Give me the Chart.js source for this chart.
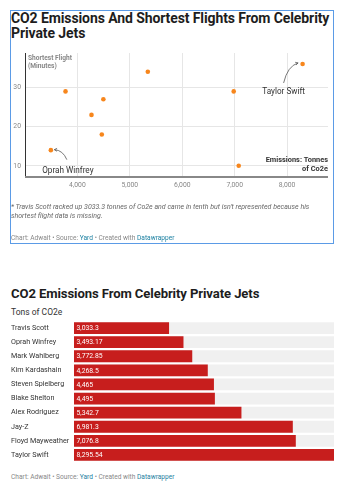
<!DOCTYPE html>
<html>
<head>
<meta charset="utf-8">
<script src="https://cdn.jsdelivr.net/npm/chart.js@4/dist/chart.umd.min.js"></script>
<style>
  html,body{margin:0;padding:0;background:#fff;font-family:Roboto,"Noto Sans",sans-serif;}
  body{width:346px;height:500px;position:relative;overflow:hidden;}
  .abs{position:absolute;}
  #box{left:10px;top:10px;width:324px;height:234px;border:1px solid #5b9be6;box-sizing:border-box;}
  .title{font-weight:bold;color:#1d1d1d;font-size:14px;line-height:15px;letter-spacing:-0.1px;}
  .note{font-style:italic;color:#666;font-size:7px;line-height:9px;}
  .credit{color:#888;font-size:6.6px;}
  .credit a{color:#1d81a2;text-decoration:none;}
  .sub{color:#333;font-size:8.5px;}
</style>
</head>
<body>
<div id="box" class="abs"></div>
<div class="abs title" style="left:11px;top:11px;width:320px;">CO2 Emissions And Shortest Flights From Celebrity Private Jets</div>
<canvas id="scatter" class="abs" style="left:0;top:0;" width="346" height="250"></canvas>
<div class="abs note" style="left:11px;top:203px;width:320px;">* Travis Scott racked up 3033.3 tonnes of Co2e and came in tenth but isn't represented because his shortest flight data is missing.</div>
<div class="abs credit" style="left:11px;top:234px;">Chart: Adwait • Source: <a>Yard</a> • Created with <a>Datawrapper</a></div>

<div class="abs title" style="left:11px;top:286px;font-size:13.1px;">CO2 Emissions From Celebrity Private Jets</div>
<div class="abs sub" style="left:11px;top:307px;">Tons of CO2e</div>
<canvas id="bars" class="abs" style="left:0;top:315px;" width="346" height="152"></canvas>
<div class="abs credit" style="left:11px;top:473px;">Chart: Adwait • Source: <a>Yard</a> • Created with <a>Datawrapper</a></div>

<script>
// ---- Data ----
const scatterNames = ["Oprah Winfrey","Mark Wahlberg","Kim Kardashain","Steven Spielberg","Blake Shelton","Alex Rodriguez","Jay-Z","Floyd Mayweather","Taylor Swift"];
const scatterEmissions = [3493.17,3772.85,4268.5,4465,4495,5342.7,6981.3,7076.8,8295.54];
const scatterFlightMinutes = [14,29,23,18,27,34,29,10,36];
const xTicks = [4000,5000,6000,7000,8000];
const yTicks = [10,20,30];

const barNames = ["Travis Scott","Oprah Winfrey","Mark Wahlberg","Kim Kardashain","Steven Spielberg","Blake Shelton","Alex Rodriguez","Jay-Z","Floyd Mayweather","Taylor Swift"];
const barValues = [3033.3,3493.17,3772.85,4268.5,4465,4495,5342.7,6981.3,7076.8,8295.54];
const barLabels = ["3,033.3","3,493.17","3,772.85","4,268.5","4,465","4,495","5,342.7","6,981.3","7,076.8","8,295.54"];

const FONT = 'Roboto, "Noto Sans", sans-serif';

// ---- Scatter ----
const annotations = [
  {name:"Oprah Winfrey", tx:17, ty:21, sx:16, sy:9.5, cx:12, cy:0, ex:3.5, ey:-0.5},
  {name:"Taylor Swift", tx:-19, ty:28, sx:-19, sy:19, cx:-15, cy:2, ex:-4.5, ey:-1}
];

const scatterPlugin = {
  id:'scatterExtras',
  afterDraw(chart){
    const {ctx, chartArea:a, scales:{x,y}} = chart;
    ctx.save();
    ctx.font = 'bold 6.6px '+FONT;
    ctx.fillStyle = '#888';
    ctx.textAlign='left'; ctx.textBaseline='middle';
    ctx.fillText('Shortest Flight', a.left+3, a.top+5);
    ctx.fillText('(Minutes)', a.left+3, a.top+13);
    ctx.font = 'bold 7.4px '+FONT;
    ctx.fillStyle = '#333';
    ctx.textAlign='right';
    ctx.fillText('Emissions: Tonnes', a.right, a.bottom-16);
    ctx.fillText('of Co2e', a.right, a.bottom-7);
    annotations.forEach(an=>{
      const i = scatterNames.indexOf(an.name);
      const px = x.getPixelForValue(scatterEmissions[i]);
      const py = y.getPixelForValue(scatterFlightMinutes[i]);
      ctx.font = '8.2px '+FONT;
      ctx.fillStyle = '#333';
      ctx.textAlign='center';
      ctx.fillText(an.name, px+an.tx, py+an.ty);
      ctx.strokeStyle='#555'; ctx.lineWidth=0.8;
      ctx.beginPath();
      ctx.moveTo(px+an.sx, py+an.sy);
      ctx.quadraticCurveTo(px+an.cx, py+an.cy, px+an.ex, py+an.ey);
      ctx.stroke();
      const ang = Math.atan2(an.ey-an.cy, an.ex-an.cx);
      const hx = px+an.ex, hy = py+an.ey;
      ctx.beginPath();
      ctx.moveTo(hx - 3*Math.cos(ang-0.5), hy - 3*Math.sin(ang-0.5));
      ctx.lineTo(hx, hy);
      ctx.lineTo(hx - 3*Math.cos(ang+0.5), hy - 3*Math.sin(ang+0.5));
      ctx.stroke();
    });
    ctx.strokeStyle='#888'; ctx.lineWidth=2;
    ctx.beginPath(); ctx.moveTo(a.left, a.bottom+1); ctx.lineTo(a.right, a.bottom+1); ctx.stroke();
    ctx.strokeStyle='#333'; ctx.lineWidth=1;
    ctx.beginPath(); ctx.moveTo(a.left+0.5, a.top); ctx.lineTo(a.left+0.5, a.bottom); ctx.stroke();
    ctx.restore();
  }
};

new Chart(document.getElementById('scatter'), {
  type:'scatter',
  data:{datasets:[{
    data: scatterEmissions.map((v,i)=>({x:v,y:scatterFlightMinutes[i]})),
    backgroundColor:'#f7861c', borderColor:'#f7861c', pointRadius:2.3, pointHoverRadius:2.3, borderWidth:0
  }]},
  options:{
    responsive:false, animation:false,
    devicePixelRatio:1,
    layout:{padding:{left:10, right:18, top:53, bottom:60}},
    plugins:{legend:{display:false}, tooltip:{enabled:false}},
    scales:{
      x:{type:'linear', min:3000, max:8780,
        afterBuildTicks(s){ s.ticks = xTicks.map(v=>({value:v})); },
        afterFit(s){ s.height = 14; },
        grid:{color:'#e6e6e6', drawTicks:false, lineWidth:1},
        border:{display:false},
        ticks:{font:{size:6.8, family:FONT}, color:'#888', padding:5,
          callback:v=>v.toLocaleString('en-US')}
      },
      y:{type:'linear', min:7.4, max:38.8,
        afterBuildTicks(s){ s.ticks = yTicks.map(v=>({value:v})); },
        afterFit(s){ s.width = 15; },
        grid:{color:'#e6e6e6', drawTicks:false, lineWidth:1},
        border:{display:false},
        ticks:{font:{size:6.8, family:FONT}, color:'#888', padding:4}
      }
    }
  },
  plugins:[scatterPlugin]
});

// ---- Bars ----
const barMax = Math.max(...barValues);
const barPlugin = {
  id:'barLabels',
  afterDatasetsDraw(chart){
    const {ctx} = chart;
    const meta = chart.getDatasetMeta(1);
    ctx.save();
    ctx.font = '6.8px '+FONT;
    ctx.fillStyle = '#fff';
    ctx.textAlign='left'; ctx.textBaseline='middle';
    meta.data.forEach((el,i)=>{
      ctx.fillText(barLabels[i], el.base+2.5, el.y+0.5);
    });
    ctx.restore();
  }
};

new Chart(document.getElementById('bars'), {
  type:'bar',
  data:{
    labels: barNames,
    datasets:[
      {data: barValues.map(()=>barMax), backgroundColor:'#f0f0f0', grouped:false, order:2,
       barPercentage:0.84, categoryPercentage:1},
      {data: barValues, backgroundColor:'#c71e1d', grouped:false, order:1,
       barPercentage:0.84, categoryPercentage:1}
    ]
  },
  options:{
    indexAxis:'y',
    responsive:false, animation:false, devicePixelRatio:1,
    layout:{padding:{left:11, right:12, top:6, bottom:5}},
    plugins:{legend:{display:false}, tooltip:{enabled:false}},
    scales:{
      x:{display:false, min:0, max:barMax},
      y:{
        afterFit(s){ s.width = 63; },
        grid:{display:false}, border:{display:false},
        ticks:{font:{size:7.2, family:FONT}, color:'#333', crossAlign:'far', padding:0}
      }
    }
  },
  plugins:[barPlugin]
});
</script>
</body>
</html>
